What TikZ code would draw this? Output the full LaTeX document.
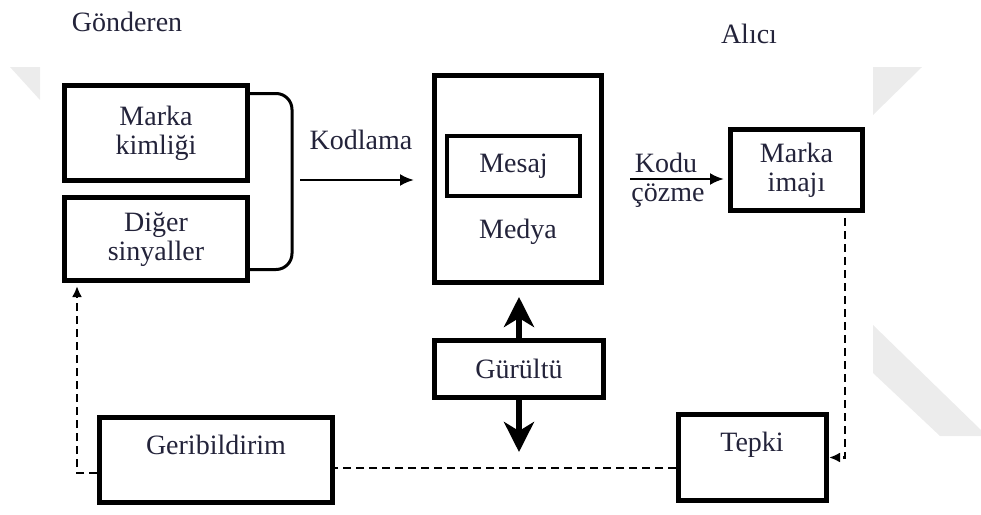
\documentclass[tikz,border=0pt]{standalone}
\usepackage{fontspec}
\setmainfont{Liberation Serif}
\usetikzlibrary{arrows.meta}
\definecolor{yazi}{RGB}{35,35,58}
\definecolor{filigran}{RGB}{236,236,236}

\begin{document}
\begin{tikzpicture}[x=1pt, y=-1pt,
        every node/.style={text=yazi, font=\fontsize{28}{29}\selectfont},
        kutu/.style={draw=black, line width=5pt, rectangle, align=center, inner sep=0pt},
        ok/.style={black, line width=2.5pt, -{Latex[length=14pt,width=12pt]}},
        buyukok/.style={black, line width=6pt, -{Stealth[length=30pt,width=30pt,inset=9pt]}},
        kesikli/.style={black, line width=2.5pt, dash pattern=on 8pt off 5pt},
        kesikliok/.style={kesikli, -{Latex[length=11pt,width=10pt]}}
    ]
        \useasboundingbox (0,0) rectangle (981,514);

        % --- 1. Background marks ---
        \fill[filigran] (10,67) -- (40,67) -- (40,100) -- cycle;
        \fill[filigran] (873,67) -- (922,67) -- (873,115) -- cycle;
        \fill[filigran] (873,325) -- (981,430) -- (981,436) -- (940,436) -- (873,373) -- cycle;

        % --- 2. Sender side ---
        \node (gonderen) at (127,22) {Gönderen};
        \node[kutu, minimum width=183pt, minimum height=95pt] (kimlik) at (156,133) {Marka\\kimliği};
        \node[kutu, minimum width=183pt, minimum height=83pt] (sinyal) at (156,239) {Diğer\\sinyaller};
        % Bracket joining both boxes
        \coordinate (kavis) at (292,180);
        \draw[black, line width=3pt, rounded corners=16pt]
            ([yshift=-10.5pt]kimlik.north east) -| (kavis) |- ([yshift=13.5pt]sinyal.south east);

        % --- 3. Coding ---
        \coordinate (kodbas) at (300,180);
        \coordinate (kodson) at (414,180);
        \draw[ok] (kodbas) -- (kodson);
        \node (kodlama) at (361,140) {Kodlama};

        % --- 4. Media and message ---
        \node[kutu, minimum width=167pt, minimum height=207pt] (medya) at (518,179) {};
        \node[kutu, line width=4pt, minimum width=133pt, minimum height=60pt] (mesaj) at (513.5,166) {Mesaj};
        \node (medyayazi) at (518,232) {Medya};

        % --- 5. Decoding and receiver ---
        \node (alici) at (749,34) {Alıcı};
        \node[kutu, minimum width=132pt, minimum height=81pt] (imaj) at (796.5,170) {Marka\\imajı};
        \coordinate (kodubas) at (630,179);
        \draw[ok, shorten >=4pt] (kodubas) -- (kodubas -| imaj.west);
        \node (kodu) at (666,163) {Kodu};
        \node (cozme) at (668,196) {çözme};

        % --- 6. Noise ---
        \node[kutu, minimum width=169pt, minimum height=57pt] (gurultu) at (519,369) {Gürültü};
        \draw[buyukok, shorten >=12pt] (gurultu.north) -- (gurultu.north |- medya.south);
        \coordinate (gurultualt) at (519,452);
        \draw[buyukok] (gurultu.south) -- (gurultualt);

        % --- 7. Response and feedback (dashed loop) ---
        \node[kutu, minimum width=148pt, minimum height=86pt] (tepki) at (752.5,457.5) {};
        \node (tepkiyazi) at (752,445) {Tepki};
        \node[kutu, minimum width=233pt, minimum height=85pt] (geri) at (216,460) {};
        \node (geriyazi) at (216,445) {Geribildirim};

        \coordinate (imajalt) at (845,218);
        \draw[kesikliok] (imajalt) |- (tepki.east);
        \coordinate (donus) at (676,468);
        \draw[kesikli] (donus) -- (donus -| geri.east);
        \coordinate (gerisol) at (97,473);
        \coordinate (sinyalalt) at (77,286);
        \draw[kesikliok] (gerisol) -| (sinyalalt);

    \end{tikzpicture}
\end{document}
